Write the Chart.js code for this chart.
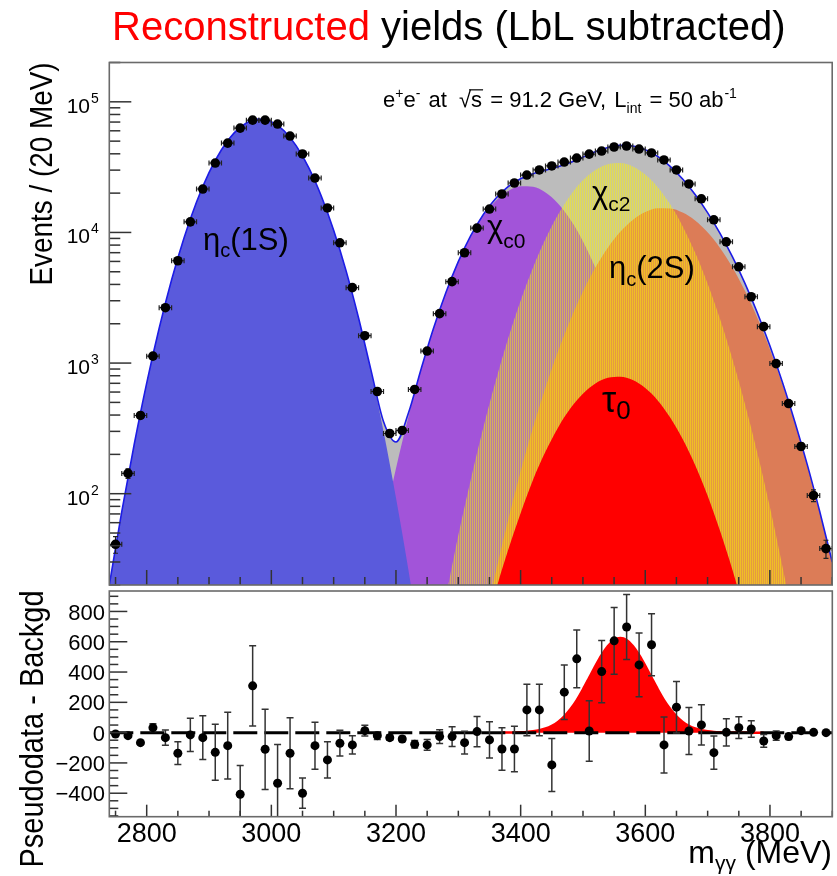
<!DOCTYPE html>
<html><head><meta charset="utf-8">
<script src="https://cdn.jsdelivr.net/npm/chart.js@4.4.1/dist/chart.umd.min.js"></script>
<style>
html,body{margin:0;padding:0;background:#fff;}
#wrap{position:relative;width:837px;height:876px;overflow:hidden;background:#fff;}
canvas{position:absolute;left:0;top:0;}
</style></head><body>
<div id="wrap"><canvas id="cTop" width="837" height="876"></canvas><canvas id="cBot" width="837" height="876"></canvas></div>
<script>
const FONT = '"Liberation Sans", Arial, Helvetica, sans-serif';

// ---------- DATA ----------
// fit-curve grid (MeV)
const massGrid = [2740,2760,2780,2800,2820,2840,2860,2880,2900,2920,2940,2960,2980,3000,3020,3040,3060,3080,3100,3120,3140,3160,3180,3200,3220,3240,3260,3280,3300,3320,3340,3360,3380,3400,3420,3440,3460,3480,3500,3520,3540,3560,3580,3600,3620,3640,3660,3680,3700,3720,3740,3760,3780,3800,3820,3840,3860,3880,3900];
const etac1S = [20,73,239,703,1849,4345,9120,17100,28700,43000,57600,68900,73800,70500,60300,46000,31400,19100,10400,5080,2210,861,300,93,26,6.4,1.4,null,null,null,null,null,null,null,null,null,null,null,null,null,null,null,null,null,null,null,null,null,null,null,null,null,null,null,null,null,null,null,null];
const chic0 = [null,null,null,null,null,null,null,null,null,null,null,null,null,null,null,null,null,null,null,1.6,5.8,19,57,156,388,881,1824,3440,5930,9310,13340,17400,20750,22540,22340,20180,16630,12500,8570,5360,3050,1590,753,326,129,46,15,4.5,1.2,null,null,null,null,null,null,null,null,null,null];
const chic2 = [null,null,null,null,null,null,null,null,null,null,null,null,null,null,null,null,null,null,null,null,null,null,null,null,null,1.5,5.2,16,48,128,318,729,1542,3000,5400,8930,13680,19280,25060,30060,33270,33960,31990,27730,22230,16410,11170,7010,4060,2170,1070,486,204,79,28,9.2,2.8,0.8,0.2];
const etac2S = [null,null,null,null,null,null,null,null,null,null,null,null,null,null,null,null,null,null,null,null,null,null,null,null,null,null,null,null,null,3.3,9.4,25,63,148,321,650,1225,2150,3520,5380,7640,10120,12470,14320,15310,15260,14200,12350,10030,7615,5400,3573,2210,1277,689,347,164,72,30];
const tau0 = [null,null,null,null,null,null,null,null,null,null,null,null,null,null,null,null,null,null,null,null,null,null,null,null,null,null,null,null,null,null,7.8,18,37,71,128,210,320,450,583,698,771,787,741,644,518,383,262,166,97,52,26,12,5,null,null,null,null,null,null];
const totalFit = [20,73,239,703,1849,4345,9120,17100,28700,43000,57600,68900,73800,70500,60300,46000,31400,19100,10400,5082,2216,880,357,249,414,889,1831,3456,5978,9441,13675,18172,22392,25759,28189,29970,31855,34380,37733,41498,44731,46457,45954,43020,38187,32099,25647,19531,14188,9837,6496,4071,2419,1356,717,356,167,73,30];

// pseudo-data bins (centres, MeV)
const binCenters = [2750,2770,2790,2810,2830,2850,2870,2890,2910,2930,2950,2970,2990,3010,3030,3050,3070,3090,3110,3130,3150,3170,3190,3210,3230,3250,3270,3290,3310,3330,3350,3370,3390,3410,3430,3450,3470,3490,3510,3530,3550,3570,3590,3610,3630,3650,3670,3690,3710,3730,3750,3770,3790,3810,3830,3850,3870,3890];
const binHalfWidth = 10;
const pseudodata = [41,143,397,1130,2655,6070,12050,21500,34000,48300,62900,72400,72400,67600,54700,39900,26100,15400,8330,3780,1620,606,289,305,628,1236,2390,4200,6990,10800,15100,19700,23900,27500,30100,32300,34600,37100,39800,42000,45100,45900,43500,40600,35900,30100,23500,18100,12500,8470,5460,3220,1900,991,490,230,97,38];
const pseudodataErr = [6,12,20,34,52,78,110,147,184,220,251,269,269,260,234,200,162,124,91,61,40,25,17,17,25,35,49,65,84,104,123,140,155,166,173,180,186,193,199,205,212,214,209,201,189,173,153,135,112,92,74,57,44,31,22,15,10,6];

// residuals (pseudodata - background)
const residual = [-9,-20,-66,33,-33,-136,-15,-33,-130,-86,-407,309,-110,-334,-136,-400,-86,-180,-70,-81,13,-20,-33,-42,-77,-81,-26,-26,-66,7,-48,-108,-108,150,150,-213,267,487,11,403,606,697,447,580,-81,168,11,51,-132,2,33,24,-55,-20,-26,13,2,0];
const residualErr = [10,10,10,25,50,75,110,145,185,220,190,265,265,255,235,100,155,120,85,60,35,25,17,17,25,35,45,65,75,100,120,140,150,170,170,175,180,190,200,205,220,215,210,205,185,170,155,133,110,90,72,55,42,30,20,15,10,6];

// tau_0 signal curve in residual panel
const tauMass = [3370,3380,3390,3400,3410,3420,3430,3440,3450,3460,3470,3480,3490,3500,3510,3520,3530,3540,3550,3560,3570,3580,3590,3600,3610,3620,3630,3640,3650,3660,3670,3680,3690,3700,3710,3720,3730,3740,3750,3760,3770,3780,3790];
const tauResidual = [0.25,0.55,1.2,2.4,4.7,8.9,16,27,45,71,108,156,215,286,363,441,513,572,611,624,611,572,513,441,363,286,215,156,108,71,45,27,16,8.9,4.7,2.4,1.2,0.55,0.25,0.1,0,0,0];

// ticks
const xMajorTicks = [2800,3000,3200,3400,3600,3800];
const xMinorStep = 50;
const yTopDecades = [2,3,4,5];
const yBotLabels = [-400,-200,0,200,400,600,800];
const yBotMinorStep = 50;

// ---------- helpers ----------
const pts = (xs, ys) => xs.map((x, i) => ({x: x, y: ys[i]}));
function stripePattern(){
  const c = document.createElement('canvas'); c.width = 2; c.height = 1;
  const g = c.getContext('2d');
  g.fillStyle = 'rgba(255,245,0,0.55)'; g.fillRect(0, 0, 1, 1);
  g.fillStyle = 'rgba(255,245,0,0.25)'; g.fillRect(1, 0, 1, 1);
  return document.getElementById('cTop').getContext('2d').createPattern(c, 'repeat');
}
function rich(ctx, x, y, parts){
  let cx = x;
  for (const p of parts){
    ctx.font = (p.it ? 'italic ' : '') + p.s + 'px ' + FONT;
    ctx.fillStyle = p.c || '#000';
    ctx.textAlign = 'left'; ctx.textBaseline = 'alphabetic';
    ctx.fillText(p.t, cx, y + (p.dy || 0));
    const w = ctx.measureText(p.t).width;
    if (p.over){ ctx.save(); ctx.strokeStyle = '#000'; ctx.lineWidth = 1.2; ctx.beginPath(); ctx.moveTo(cx - 2, y - p.s * 0.78); ctx.lineTo(cx + w + 1, y - p.s * 0.78); ctx.stroke(); ctx.restore(); }
    cx += w + (p.gap || 0);
  }
  return cx;
}
function vtext(ctx, text, size, xb, cy, len){
  ctx.save(); ctx.font = size + 'px ' + FONT;
  const w = ctx.measureText(text).width;
  ctx.translate(xb, cy); ctx.rotate(-Math.PI / 2); ctx.scale(len / w, 1);
  ctx.textAlign = 'center'; ctx.textBaseline = 'alphabetic'; ctx.fillStyle = '#000';
  ctx.fillText(text, 0, 0); ctx.restore();
}
function seg(ctx, x1, y1, x2, y2){ ctx.beginPath(); ctx.moveTo(x1, y1); ctx.lineTo(x2, y2); ctx.stroke(); }

const errorBars = {
  id: 'errorBars',
  beforeDatasetDraw(chart, args){
    const ds = chart.data.datasets[args.index];
    if (!ds.errY) return;
    const ctx = chart.ctx, xs = chart.scales.x, ys = chart.scales.y, ca = chart.chartArea;
    ctx.save();
    ctx.beginPath(); ctx.rect(ca.left, ca.top, ca.right - ca.left, ca.bottom - ca.top); ctx.clip();
    ctx.strokeStyle = ds.errColor; ctx.lineWidth = ds.errWidth;
    ds.data.forEach((p, i) => {
      const x = xs.getPixelForValue(p.x), e = ds.errY[i];
      const lo = ds.logY ? Math.max(p.y - e, 1e-3) : p.y - e;
      const y1 = ys.getPixelForValue(p.y + e), y2 = ys.getPixelForValue(lo);
      seg(ctx, x, y1, x, y2);
      const c = ds.capW;
      seg(ctx, x - c, y1, x + c, y1); seg(ctx, x - c, y2, x + c, y2);
      if (ds.errX){
        const y = ys.getPixelForValue(p.y);
        const xl = xs.getPixelForValue(p.x - ds.errX), xr = xs.getPixelForValue(p.x + ds.errX);
        seg(ctx, xl, y, xr, y); seg(ctx, xl, y - 2.5, xl, y + 2.5); seg(ctx, xr, y - 2.5, xr, y + 2.5);
      }
    });
    ctx.restore();
  }
};

const topDecor = {
  id: 'topDecor',
  afterDraw(chart){
    const ctx = chart.ctx, ca = chart.chartArea, xs = chart.scales.x, ys = chart.scales.y;
    ctx.save();
    // ticks
    ctx.strokeStyle = '#333'; ctx.lineWidth = 1.5;
    for (const e of [1].concat(yTopDecades)){
      for (let k = 1; k <= 9; k++){
        const v = k * Math.pow(10, e);
        if (v < ys.min || v > ys.max) continue;
        const y = ys.getPixelForValue(v);
        seg(ctx, ca.left, y, ca.left + (k === 1 ? 22 : 11), y);
      }
    }
    for (let m = xs.min + 10; m <= xs.max; m += xMinorStep){
      const x = xs.getPixelForValue(m);
      seg(ctx, x, ca.bottom, x, ca.bottom - (xMajorTicks.includes(m) ? 15 : 8));
    }
    // frame
    ctx.strokeStyle = '#6a6a6a'; ctx.lineWidth = 1.6;
    ctx.strokeRect(ca.left, ca.top, ca.right - ca.left, ca.bottom - ca.top);
    // y tick labels 10^n
    for (const e of yTopDecades){
      const y = ys.getPixelForValue(Math.pow(10, e));
      ctx.font = '21px ' + FONT; ctx.fillStyle = '#000'; ctx.textAlign = 'right'; ctx.textBaseline = 'alphabetic';
      ctx.fillText('10', 90, y + 11);
      ctx.font = '14px ' + FONT; ctx.textAlign = 'left';
      ctx.fillText(String(e), 91, y + 1);
    }
    // y title
    vtext(ctx, 'Events / (20 MeV)', 32, 52, 174, 223);
    // title
    ctx.textAlign = 'left';
    rich(ctx, 112, 40, [{t: 'Reconstructed', s: 40, c: '#ff0000'}, {t: ' yields (LbL subtracted)', s: 40}]);
    // annotation
    rich(ctx, 383, 107, [
      {t: 'e', s: 22}, {t: '+', s: 14, dy: -9}, {t: 'e', s: 22}, {t: '-', s: 14, dy: -9, gap: 2},
      {t: ' at  ', s: 22}, {t: '\u221A', s: 22}, {t: 's', s: 22, over: true, gap: 2},
      {t: ' = 91.2 GeV, ', s: 22, gap: 2}, {t: 'L', s: 22}, {t: 'int', s: 14, dy: 6, gap: 2}, {t: ' = 50 ab', s: 22, gap: 1}, {t: '-1', s: 14, dy: -9}
    ]);
    // component labels
    rich(ctx, 203, 250, [{t: '\u03B7', s: 31}, {t: 'c', s: 20, dy: 7}, {t: '(1S)', s: 31}]);
    rich(ctx, 487, 237, [{t: '\u03C7', s: 31}, {t: 'c0', s: 21, dy: 11}]);
    rich(ctx, 592, 203, [{t: '\u03C7', s: 31}, {t: 'c2', s: 21, dy: 8}]);
    rich(ctx, 609, 278, [{t: '\u03B7', s: 31}, {t: 'c', s: 20, dy: 8}, {t: '(2S)', s: 31}]);
    rich(ctx, 602, 412, [{t: '\u03C4', s: 36}, {t: '0', s: 26, dy: 7}]);
    ctx.restore();
  }
};

const botDecor = {
  id: 'botDecor',
  afterDraw(chart){
    const ctx = chart.ctx, ca = chart.chartArea, xs = chart.scales.x, ys = chart.scales.y;
    ctx.save();
    ctx.strokeStyle = '#333'; ctx.lineWidth = 1.5;
    for (let v = -550; v <= ys.max; v += yBotMinorStep){
      const y = ys.getPixelForValue(v);
      seg(ctx, ca.left, y, ca.left + (v % 200 === 0 ? 18 : 9), y);
    }
    for (let m = xs.min + 10; m <= xs.max; m += xMinorStep){
      const x = xs.getPixelForValue(m);
      seg(ctx, x, ca.bottom, x, ca.bottom - (xMajorTicks.includes(m) ? 12 : 6));
    }
    ctx.strokeStyle = '#6a6a6a'; ctx.lineWidth = 1.6;
    ctx.strokeRect(ca.left, ca.top, ca.right - ca.left, ca.bottom - ca.top);
    // y labels
    ctx.fillStyle = '#000'; ctx.font = '22px ' + FONT; ctx.textAlign = 'right'; ctx.textBaseline = 'middle';
    for (const v of yBotLabels){
      ctx.fillText(v < 0 ? '\u2212' + Math.abs(v) : String(v), 105, ys.getPixelForValue(v) + 2);
    }
    // x labels
    ctx.font = '27px ' + FONT; ctx.textAlign = 'center'; ctx.textBaseline = 'alphabetic';
    for (const m of xMajorTicks) ctx.fillText(String(m), xs.getPixelForValue(m), 842);
    // x title (right aligned)
    ctx.font = '32px ' + FONT;
    const wMeV = ctx.measureText('(MeV)').width, wM = ctx.measureText('m').width, wSp = ctx.measureText(' ').width;
    ctx.font = '21px ' + FONT;
    const wG = ctx.measureText('\u03B3\u03B3').width;
    const xStart = 832 - wMeV - wSp - wG - wM;
    rich(ctx, xStart, 863, [{t: 'm', s: 32}, {t: '\u03B3\u03B3', s: 21, dy: 7}, {t: ' (MeV)', s: 32}]);
    // y title
    vtext(ctx, 'Pseudodata - Backgd', 34, 43, 729, 277);
    ctx.restore();
  }
};

Chart.defaults.font.family = FONT;
Chart.defaults.animation = false;

const fillBase = {pointRadius: 0, borderWidth: 0, cubicInterpolationMode: 'monotone', spanGaps: false, fill: 'start'};

new Chart(document.getElementById('cTop'), {
  type: 'line',
  data: {datasets: [
    Object.assign({label: 'Total fit (fill)', data: pts(massGrid, totalFit), backgroundColor: '#bcbcbc', order: 10}, fillBase),
    Object.assign({label: '\u03C7c0', data: pts(massGrid, chic0), backgroundColor: '#a254d9', order: 9}, fillBase),
    Object.assign({label: '\u03B7c(2S)', data: pts(massGrid, etac2S), backgroundColor: '#dc7c57', order: 8}, fillBase),
    Object.assign({label: '\u03C7c2', data: pts(massGrid, chic2), backgroundColor: stripePattern(), order: 7}, fillBase),
    Object.assign({label: '\u03B7c(1S)', data: pts(massGrid, etac1S), backgroundColor: '#5a5adc', order: 6}, fillBase),
    Object.assign({label: '\u03C40', data: pts(massGrid, tau0), backgroundColor: '#ff0000', order: 5}, fillBase),
    {label: 'Total fit', data: pts(massGrid, totalFit), fill: false, borderColor: '#1c1ce6', borderWidth: 1.6, pointRadius: 0, cubicInterpolationMode: 'monotone', order: 4},
    {label: 'Pseudodata', data: pts(binCenters, pseudodata), showLine: false, pointRadius: 4.8, pointBackgroundColor: '#000', pointBorderWidth: 0,
     errY: pseudodataErr, errX: binHalfWidth, errColor: '#222', errWidth: 1.2, capW: 2.5, logY: true, order: 0}
  ]},
  options: {
    responsive: false, devicePixelRatio: 1, events: [],
    layout: {padding: {left: 109.3, right: 4.7, top: 62.5, bottom: 291}},
    plugins: {legend: {display: false}, tooltip: {enabled: false}, title: {display: false}},
    scales: {
      x: {type: 'linear', min: 2740, max: 3900, display: false},
      y: {type: 'logarithmic', min: 20, max: 200000, display: false}
    }
  },
  plugins: [errorBars, topDecor]
});

new Chart(document.getElementById('cBot'), {
  type: 'line',
  data: {datasets: [
    {label: '\u03C40 signal', data: pts(tauMass, tauResidual), fill: 'origin', backgroundColor: '#ff0000', borderColor: '#ff0000', borderWidth: 2.5, pointRadius: 0, tension: 0.3, order: 3},
    {label: 'zero', data: [{x: 2740, y: 0}, {x: 3900, y: 0}], fill: false, borderColor: '#000', borderWidth: 3, borderDash: [24, 7], pointRadius: 0, order: 2},
    {label: 'Pseudodata - Backgd', data: pts(binCenters, residual), showLine: false, pointRadius: 4.5, pointBackgroundColor: '#000', pointBorderWidth: 0,
     errY: residualErr, errColor: '#333', errWidth: 1.5, capW: 3.5, order: 0}
  ]},
  options: {
    responsive: false, devicePixelRatio: 1, events: [],
    layout: {padding: {left: 109.3, right: 4.7, top: 591, bottom: 59.3}},
    plugins: {legend: {display: false}, tooltip: {enabled: false}, title: {display: false}},
    scales: {
      x: {type: 'linear', min: 2740, max: 3900, display: false},
      y: {type: 'linear', min: -555, max: 935, display: false}
    }
  },
  plugins: [errorBars, botDecor]
});
</script></body></html>
